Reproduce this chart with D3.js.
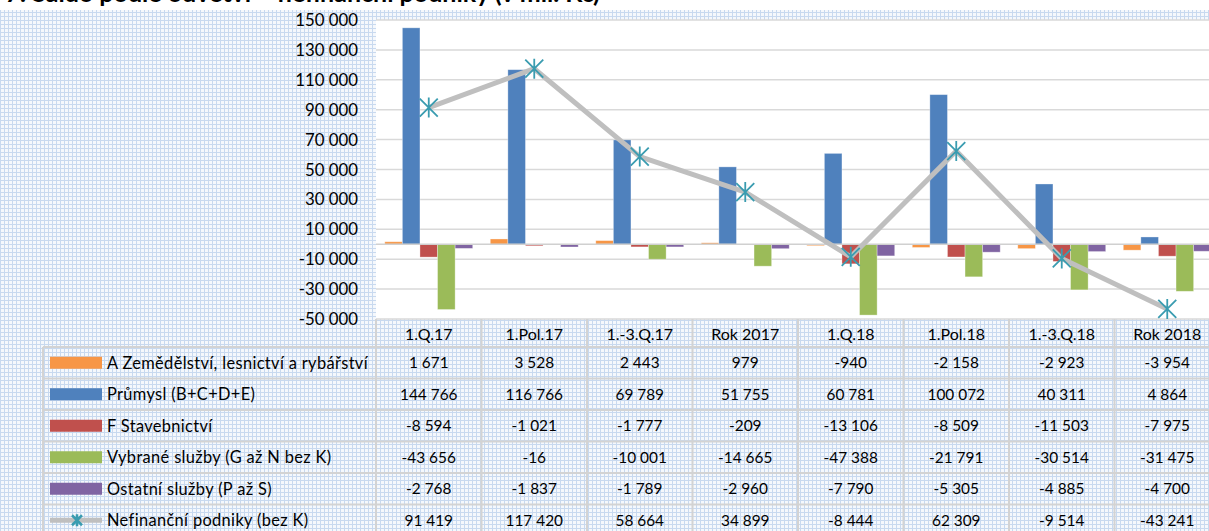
<!DOCTYPE html>
<html>
<head>
<meta charset="utf-8">
<script src="https://cdn.jsdelivr.net/npm/d3@7"></script>
<style>
  body { margin: 0; padding: 0; background: #fff; overflow: hidden; }
  svg { display: block; font-family: Lato, "Open Sans", sans-serif; }
</style>
</head>
<body>
<svg id="chart" width="1209" height="531"></svg>
<script>
// chart data
const categories = ["1.Q.17", "1.Pol.17", "1.-3.Q.17", "Rok 2017", "1.Q.18", "1.Pol.18", "1.-3.Q.18", "Rok 2018"];
const zemedelstvi = [1671, 3528, 2443, 979, -940, -2158, -2923, -3954];
const prumysl = [144766, 116766, 69789, 51755, 60781, 100072, 40311, 4864];
const stavebnictvi = [-8594, -1021, -1777, -209, -13106, -8509, -11503, -7975];
const vybraneSluzby = [-43656, -16, -10001, -14665, -47388, -21791, -30514, -31475];
const ostatniSluzby = [-2768, -1837, -1789, -2960, -7790, -5305, -4885, -4700];
const nefinancni = [91419, 117420, 58664, 34899, -8444, 62309, -9514, -43241];
const yTicks = [-50000, -30000, -10000, 10000, 30000, 50000, 70000, 90000, 110000, 130000, 150000];

const barSeries = [
    { name: "A Zemědělství, lesnictví a rybářství", color: "#F79646", values: zemedelstvi },
    { name: "Průmysl (B+C+D+E)", color: "#4F81BD", values: prumysl },
    { name: "F Stavebnictví", color: "#C0504D", values: stavebnictvi },
    { name: "Vybrané služby (G až N bez K)", color: "#9BBB59", values: vybraneSluzby },
    { name: "Ostatní služby (P až S)", color: "#8064A2", values: ostatniSluzby }
];
const lineSeries = { name: "Nefinanční podniky (bez K)", color: "#BFBFBF", marker: "#3A9CB0", values: nefinancni };

const svg = d3.select("#chart");
const W = 1209, H = 531;

const loc = d3.formatLocale({ decimal: ",", thousands: " ", grouping: [3], currency: ["", ""], minus: "-" });
const fmt = loc.format(",d");

// pattern background (excel style)
const defs = svg.append("defs");
const pat = defs.append("pattern")
    .attr("id", "pat")
    .attr("width", 4).attr("height", 4)
    .attr("patternUnits", "userSpaceOnUse");
pat.append("rect").attr("width", 4).attr("height", 4).attr("fill", "#f5f8fc");
pat.append("rect").attr("width", 4).attr("height", 1).attr("fill", "#c8d9ef");
pat.append("rect").attr("width", 1).attr("height", 4).attr("fill", "#c8d9ef");

svg.append("rect").attr("x", 0).attr("y", 10).attr("width", W).attr("height", H - 10).attr("fill", "url(#pat)");

// title, cut off at the top like in the source
svg.append("text")
    .attr("x", 600).attr("y", 2)
    .attr("text-anchor", "end")
    .style("font-weight", "bold")
    .style("font-size", "25px")
    .text("Graf č. 7: Saldo podle odvětví – nefinanční podniky (v mil. Kč)");

const plotLeft = 376, plotRight = 1220, plotTop = 20, plotBottom = 319;

const x = d3.scaleBand().domain(categories).range([plotLeft, plotRight]);
const xs = d3.scaleBand().domain(d3.range(barSeries.length)).range([0, x.bandwidth()]).paddingOuter(0.5);
const y = d3.scaleLinear().domain([-50000, 150000]).range([plotBottom, plotTop]);

svg.append("rect")
    .attr("x", plotLeft).attr("y", plotTop)
    .attr("width", plotRight - plotLeft).attr("height", plotBottom - plotTop)
    .attr("fill", "#fff");

// gridlines
svg.append("g").selectAll("line")
    .data(yTicks)
    .enter()
    .append("line")
    .attr("x1", plotLeft).attr("x2", plotRight)
    .attr("y1", d => y(d)).attr("y2", d => y(d))
    .style("stroke", "#d9d9d9")
    .style("stroke-width", 1.5);

// y labels
svg.append("g").selectAll("text")
    .data(yTicks)
    .enter()
    .append("text")
    .attr("x", 358)
    .attr("y", d => y(d))
    .attr("dy", "0.36em")
    .attr("text-anchor", "end")
    .style("font-size", "16.8px")
    .style("fill", "#000")
    .text(d => fmt(d));

// bars
barSeries.forEach((s, si) => {
    svg.append("g").selectAll("rect")
        .data(s.values)
        .enter()
        .append("rect")
        .attr("x", (d, i) => x(categories[i]) + xs(si))
        .attr("width", xs.bandwidth())
        .attr("y", d => y(Math.max(0, d)))
        .attr("height", d => Math.abs(y(d) - y(0)))
        .style("fill", s.color)
        .style("stroke", "#ffffff")
        .style("stroke-opacity", 0.4)
        .style("stroke-width", 0.8);
});

// zero axis line
svg.append("line")
    .attr("x1", plotLeft).attr("x2", plotRight)
    .attr("y1", y(0)).attr("y2", y(0))
    .style("stroke", "#d0d0d0")
    .style("stroke-width", 1.5);

// line series
const line = d3.line()
    .x((d, i) => x(categories[i]) + x.bandwidth() / 2)
    .y(d => y(d));

svg.append("path")
    .attr("d", line(lineSeries.values))
    .style("fill", "none")
    .style("stroke", lineSeries.color)
    .style("stroke-width", 5)
    .style("stroke-linejoin", "round");

const star = "M-9,-9L9,9M-9,9L9,-9M0,-10L0,10";
svg.append("g").selectAll("path")
    .data(lineSeries.values)
    .enter()
    .append("path")
    .attr("transform", (d, i) => `translate(${x(categories[i]) + x.bandwidth() / 2},${y(d)})`)
    .attr("d", star)
    .style("fill", "none")
    .style("stroke", lineSeries.marker)
    .style("stroke-width", 1.8);

// data table
const tableLeft = 43, headTop = 319, headBottom = 347, rowH = 31.5;
const rows = barSeries.concat([lineSeries]);
const tableBottom = headBottom + rows.length * rowH;
const gridColor = "#d3d3d3";
const table = svg.append("g");

// header labels
table.selectAll(".cat")
    .data(categories)
    .enter()
    .append("text")
    .attr("class", "cat")
    .attr("x", d => x(d) + x.bandwidth() / 2)
    .attr("y", (headTop + headBottom) / 2 + 1)
    .attr("dy", "0.36em")
    .attr("text-anchor", "middle")
    .style("font-size", "16px")
    .text(d => d);

// horizontal rules
table.selectAll(".hr")
    .data(d3.range(rows.length + 1))
    .enter()
    .append("line")
    .attr("x1", tableLeft).attr("x2", W)
    .attr("y1", i => headBottom + i * rowH).attr("y2", i => headBottom + i * rowH)
    .style("stroke", gridColor)
    .style("stroke-width", 2);

// vertical rules
table.selectAll(".vr")
    .data(categories.concat(["end"]))
    .enter()
    .append("line")
    .attr("x1", (d, i) => plotLeft + i * x.step()).attr("x2", (d, i) => plotLeft + i * x.step())
    .attr("y1", headTop).attr("y2", tableBottom)
    .style("stroke", gridColor)
    .style("stroke-width", 2);

table.append("line")
    .attr("x1", tableLeft).attr("x2", tableLeft)
    .attr("y1", headBottom).attr("y2", tableBottom)
    .style("stroke", gridColor)
    .style("stroke-width", 2);

rows.forEach((s, ri) => {
    const cy = headBottom + ri * rowH + rowH / 2;
    if (s === lineSeries) {
        table.append("line")
            .attr("x1", 50).attr("x2", 102)
            .attr("y1", cy).attr("y2", cy)
            .style("stroke", s.color)
            .style("stroke-width", 5);
        table.append("path")
            .attr("transform", `translate(77,${cy})`)
            .attr("d", "M-5,-5L5,5M-5,5L5,-5M0,-6L0,6")
            .style("fill", "none")
            .style("stroke", s.marker)
            .style("stroke-width", 2.5);
    } else {
        table.append("rect")
            .attr("x", 50).attr("y", cy - 6)
            .attr("width", 52).attr("height", 12)
            .style("fill", s.color);
    }
    table.append("text")
        .attr("x", 107).attr("y", cy)
        .attr("dy", "0.36em")
        .style("font-size", "16.4px")
        .style("letter-spacing", "0.35px")
        .text(s.name);
    table.append("g").selectAll("text")
        .data(s.values)
        .enter()
        .append("text")
        .attr("x", (d, i) => x(categories[i]) + x.bandwidth() / 2)
        .attr("y", cy)
        .attr("dy", "0.36em")
        .attr("text-anchor", "middle")
        .style("font-size", "15.4px")
        .text(d => fmt(d));
});
</script>
</body>
</html>
